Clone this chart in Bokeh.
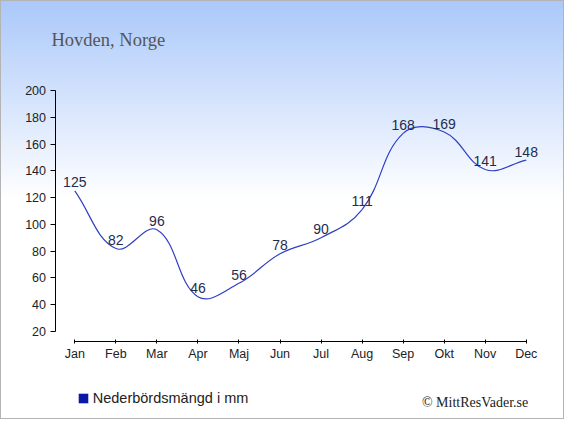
import math
from bokeh.plotting import figure
from bokeh.models import Range1d, FixedTicker, Label, Legend, LegendItem, ColumnDataSource
from bokeh.core.properties import value
from bokeh.embed import file_html
from bokeh.resources import INLINE

# ---- data ----
months = ["Jan", "Feb", "Mar", "Apr", "Maj", "Jun", "Jul", "Aug", "Sep", "Okt", "Nov", "Dec"]
precip = [125, 82, 96, 46, 56, 78, 90, 111, 168, 169, 141, 148]
y_ticks = [20, 40, 60, 80, 100, 120, 140, 160, 180, 200]
title_text = "Hovden, Norge"
legend_text = "Nederbördsmängd i mm"
credit_text = "© MittResVader.se"

# ---- layout constants (pixel geometry of the frame) ----
W, H = 564, 419
JAN_PX, PX_PER_MONTH = 74.3, 41.04
Y20_PX, PX_PER_MM = 331.0, 241.0 / 180.0


def X(px):
    return (px - JAN_PX) / PX_PER_MONTH


def Y(py):
    return 20 + (Y20_PX - py) / PX_PER_MM


SANS = "Liberation Sans"
SERIF = "Liberation Serif"
NAN = float("nan")

p = figure(width=W, height=H, output_backend="svg", toolbar_location=None,
           x_range=Range1d(X(0), X(W)), y_range=Range1d(Y(H), Y(0)),
           min_border_left=0, min_border_right=0, min_border_top=0, min_border_bottom=0)
p.background_fill_alpha = 0
p.border_fill_alpha = 0
p.outline_line_color = None
p.xgrid.visible = False
p.ygrid.visible = False
p.styles = {"background": "linear-gradient(to bottom, #aac8fa 0px, #ffffff 200px)",
            "outline": "1px solid #b4b4b4", "outline-offset": "-1px"}

# axes
idx = list(range(len(months)))
p.xaxis.ticker = FixedTicker(ticks=idx)
p.xaxis.major_label_overrides = {i: m for i, m in zip(idx, months)}
p.xaxis.bounds = (idx[0], idx[-1])
p.xaxis.fixed_location = Y(341)
p.yaxis.ticker = FixedTicker(ticks=y_ticks)
p.yaxis.bounds = (y_ticks[0], y_ticks[-1])
p.yaxis.fixed_location = X(54.5)
for ax in (p.xaxis, p.yaxis):
    ax.axis_line_color = "#000000"
    ax.major_tick_line_color = "#000000"
    ax.minor_tick_line_color = None
    ax.major_label_text_font = SANS
    ax.major_label_text_font_size = "12.5px"
    ax.major_label_text_color = "#222222"
p.xaxis.major_tick_in = 2
p.xaxis.major_tick_out = 2
p.xaxis.major_label_standoff = 3
p.yaxis.major_tick_in = 0
p.yaxis.major_tick_out = 5
p.yaxis.major_label_standoff = 4

# smooth line (Chart.js style cubic control points, tension 0.4)
t = 0.4
n = len(precip)
cpx_prev, cpy_prev, cpx_next, cpy_next = [], [], [], []
for i in range(n):
    xp, yp = (idx[i - 1], precip[i - 1]) if i > 0 else (idx[i], precip[i])
    xn, yn = (idx[i + 1], precip[i + 1]) if i < n - 1 else (idx[i], precip[i])
    xc, yc = idx[i], precip[i]
    d01 = math.hypot((xc - xp) * PX_PER_MONTH, (yc - yp) * PX_PER_MM)
    d12 = math.hypot((xn - xc) * PX_PER_MONTH, (yn - yc) * PX_PER_MM)
    tot = d01 + d12
    s01 = d01 / tot if tot else 0
    s12 = d12 / tot if tot else 0
    fa, fb = t * s01, t * s12
    cpx_prev.append(xc - fa * (xn - xp))
    cpy_prev.append(yc - fa * (yn - yp))
    cpx_next.append(xc + fb * (xn - xp))
    cpy_next.append(yc + fb * (yn - yp))

seg = ColumnDataSource(dict(
    x0=idx[:-1], y0=precip[:-1], x1=idx[1:], y1=precip[1:],
    cx0=cpx_next[:-1], cy0=cpy_next[:-1], cx1=cpx_prev[1:], cy1=cpy_prev[1:]))
p.bezier(x0="x0", y0="y0", x1="x1", y1="y1", cx0="cx0", cy0="cy0", cx1="cx1", cy1="cy1",
         source=seg, line_color="#2f3fc4", line_width=1.2)

# value labels
lab = ColumnDataSource(dict(x=idx, y=precip, t=[str(v) for v in precip]))
p.text(x="x", y="y", text="t", source=lab, text_align="center", text_baseline="alphabetic",
       y_offset=-8.5, text_font=value(SANS), text_font_size="14px", text_color="#1f2d4d")

# legend (proxy renderer with no drawable geometry, only for the legend swatch)
sq = p.quad(left=[NAN], right=[NAN], bottom=[NAN], top=[NAN],
            fill_color="#0a18a8", line_color=None)
legend = Legend(items=[LegendItem(label=legend_text, renderers=[sq])],
                location=(76.75, H - 406), orientation="horizontal",
                glyph_width=12, glyph_height=12, label_standoff=4,
                label_text_font=SANS, label_text_font_size="14.5px", label_text_color="#222222",
                label_height=12, padding=0, margin=0, spacing=0,
                border_line_color=None, background_fill_alpha=0)
p.add_layout(legend)

# title and credit
p.add_layout(Label(x=X(51), y=Y(39), text=title_text,
                   text_font=SERIF, text_font_size="18.5px", text_color="#555555",
                   text_baseline="alphabetic"))
p.add_layout(Label(x=X(527.7), y=Y(402.3), text=credit_text,
                   text_font=SERIF, text_font_size="14px", text_color="#222222",
                   text_align="right", text_baseline="alphabetic"))

open("out.html", "w").write(file_html(p, INLINE))
